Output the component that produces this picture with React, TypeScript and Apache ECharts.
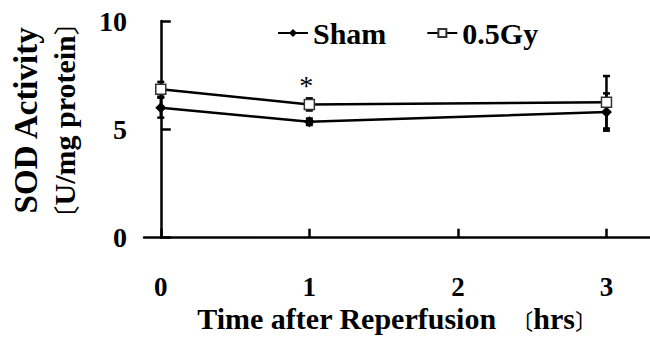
import React, { useEffect, useRef } from "react";
import * as echarts from "echarts";

const times = [0, 1, 3];
const shamMean = [6.0, 5.35, 5.8];
const shamErr = [0.46, 0.15, 0.86];
const gyMean = [6.85, 6.15, 6.25];
const gyErr = [0.34, 0.28, 1.21];
const xTickValues = [0, 1, 2, 3];
const seriesNames = ["Sham", "0.5Gy"];
const starIndex = 1;

const FONT = "'Liberation Serif', 'Times New Roman', 'Noto Sans CJK JP', serif";
const CJK = "'Noto Sans CJK JP', 'Noto Sans CJK SC', sans-serif";

export default function App() {
  const ref = useRef<HTMLDivElement>(null);
  useEffect(() => {
    if (!ref.current) return;
    const chart = echarts.init(ref.current, null, { renderer: "svg" });

    const errData = (means: number[], errs: number[]) =>
      times.map((t, i) => [t, means[i] - errs[i], means[i] + errs[i]]);

    const errRender = (params: any, api: any) => {
      const x = api.value(0);
      const lo = api.coord([x, api.value(1)]);
      const hi = api.coord([x, api.value(2)]);
      const hw = 3.5;
      const st = { stroke: "#000", lineWidth: 2.5 };
      return {
        type: "group",
        children: [
          { type: "line", shape: { x1: lo[0], y1: lo[1], x2: hi[0], y2: hi[1] }, style: st },
          { type: "line", shape: { x1: lo[0] - hw, y1: lo[1], x2: lo[0] + hw, y2: lo[1] }, style: st },
          { type: "line", shape: { x1: hi[0] - hw, y1: hi[1], x2: hi[0] + hw, y2: hi[1] }, style: st },
        ],
      };
    };

    chart.setOption({
      animation: false,
      backgroundColor: "#fff",
      textStyle: { fontFamily: FONT },
      grid: {
        left: 144,
        right: 0,
        top: 21,
        bottom: 100.3,
        containLabel: false,
        outerBoundsMode: "none",
      },
      legend: {
        data: seriesNames,
        left: 272,
        top: 13,
        itemWidth: 30,
        itemHeight: 10,
        itemGap: 40,
        textStyle: { fontFamily: FONT, fontWeight: "bold", fontSize: 30, color: "#000" },
      },
      xAxis: {
        type: "value",
        min: -0.113,
        max: 3.293,
        splitLine: { show: false },
        axisLine: { lineStyle: { color: "#000", width: 2.5 } },
        axisTick: { inside: true, length: 9, customValues: xTickValues, lineStyle: { color: "#000", width: 2.5 } },
        axisLabel: {
          customValues: xTickValues,
          margin: 39,
          fontSize: 27,
          lineHeight: 20,
          fontWeight: "bold",
          color: "#000",
          fontFamily: FONT,
        },
        name: "Time after Reperfusion  {b|〔}hrs{b|〕}",
        nameLocation: "middle",
        nameGap: 70,
        nameMoveOverlap: false,
        nameTextStyle: {
          fontSize: 30,
          lineHeight: 22,
          fontWeight: "bold",
          color: "#000",
          fontFamily: FONT,
          rich: {
            b: { fontSize: 22, lineHeight: 22, fontFamily: CJK, fontWeight: "normal", color: "#000" },
          },
        },
      },
      yAxis: {
        type: "value",
        min: 0,
        max: 10,
        interval: 5,
        splitLine: { show: false },
        axisLine: { show: true, lineStyle: { color: "#000", width: 2.5 } },
        axisTick: { show: true, inside: true, length: 10, lineStyle: { color: "#000", width: 2.5 } },
        axisLabel: {
          margin: 17,
          fontSize: 28,
          fontWeight: "bold",
          color: "#000",
          fontFamily: FONT,
          padding: [10, 0, 0, 0],
        },
        name: "{s|SOD Activity}\n{b|〔}{t|U/mg protein}{b|〕}",
        nameLocation: "middle",
        nameRotate: 90,
        nameGap: 60,
        nameMoveOverlap: false,
        nameTextStyle: {
          fontSize: 33,
          lineHeight: 39,
          fontWeight: "bold",
          color: "#000",
          fontFamily: FONT,
          padding: [0, 0, 0, 18],
          rich: {
            s: { fontSize: 33, lineHeight: 39, fontWeight: "bold", fontFamily: FONT, color: "#000" },
            t: { fontSize: 30, lineHeight: 39, fontWeight: "bold", fontFamily: FONT, color: "#000" },
            b: { fontSize: 26, lineHeight: 39, fontWeight: "normal", fontFamily: CJK, color: "#000" },
          },
        },
      },
      series: [
        {
          type: "custom",
          name: "errSham",
          renderItem: errRender,
          data: errData(shamMean, shamErr),
          z: 1,
          silent: true,
        },
        {
          type: "custom",
          name: "errGy",
          renderItem: errRender,
          data: errData(gyMean, gyErr),
          z: 1,
          silent: true,
        },
        {
          type: "line",
          name: seriesNames[0],
          data: times.map((t, i) => [t, shamMean[i]]),
          symbol: "diamond",
          symbolSize: 11,
          lineStyle: { color: "#000", width: 2.5 },
          itemStyle: { color: "#000" },
          z: 3,
        },
        {
          type: "line",
          name: seriesNames[1],
          data: times.map((t, i) =>
            i === starIndex
              ? {
                  value: [t, gyMean[i]],
                  label: {
                    show: true,
                    formatter: "*",
                    position: "top",
                    distance: 2,
                    offset: [-3, 3],
                    fontSize: 28,
                    color: "#000",
                    fontFamily: FONT,
                  },
                }
              : [t, gyMean[i]]
          ),
          symbol: "rect",
          symbolSize: 10,
          lineStyle: { color: "#000", width: 2.5 },
          itemStyle: { color: "#fff", borderColor: "#333", borderWidth: 1.5 },
          z: 4,
        },
      ],
    });
    return () => chart.dispose();
  }, []);
  return (
    <div
      ref={ref}
      style={{ position: "fixed", left: 0, top: 0, width: 650, height: 338, background: "#fff" }}
    />
  );
}
